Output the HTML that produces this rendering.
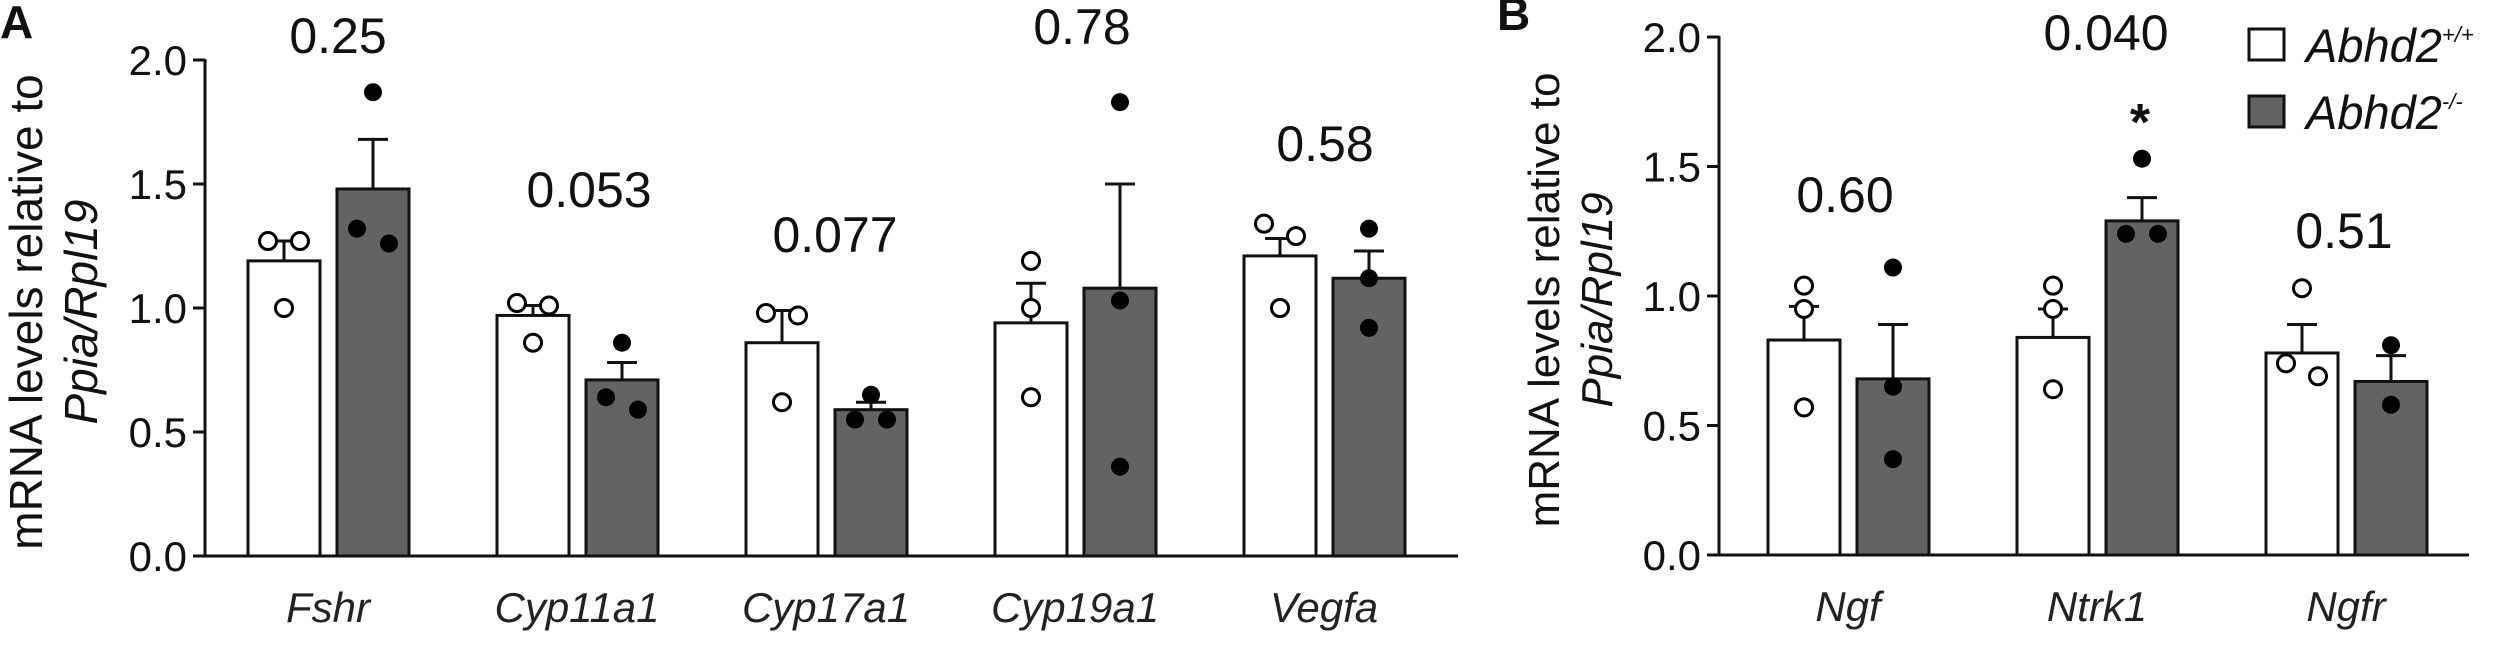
<!DOCTYPE html>
<html><head><meta charset="utf-8"><style>
html,body{margin:0;padding:0;background:#fff;}
svg{display:block;font-family:"Liberation Sans",sans-serif;}
</style></head><body>
<svg id="chart" width="2500" height="653" viewBox="0 0 2500 653"></svg>
<script>
// Panel A data
const catsA = ["Fshr","Cyp11a1","Cyp17a1","Cyp19a1","Vegfa"];
const wtA = [1.19,0.97,0.86,0.94,1.21];
const wtErrA = [1.27,1.01,0.99,1.10,1.28];
const koA = [1.48,0.71,0.59,1.08,1.12];
const koErrA = [1.68,0.78,0.62,1.50,1.23];
const wtPtsA = [[1.27,1.27,1.00],[1.02,1.01,0.86],[0.98,0.97,0.62],[1.19,1.00,0.64],[1.34,1.29,1.00]];
const koPtsA = [[1.87,1.32,1.26],[0.86,0.64,0.59],[0.65,0.55,0.55],[1.83,1.03,0.36],[1.32,1.12,0.92]];
const pA = ["0.25","0.053","0.077","0.78","0.58"];
// Panel B data
const catsB = ["Ngf","Ntrk1","Ngfr"];
const wtB = [0.83,0.84,0.78];
const wtErrB = [0.96,0.95,0.89];
const koB = [0.68,1.29,0.67];
const koErrB = [0.89,1.38,0.77];
const wtPtsB = [[1.04,0.95,0.57],[1.04,0.95,0.64],[1.03,0.74,0.69]];
const koPtsB = [[1.11,0.65,0.37],[1.53,1.24,1.24],[0.81,0.58]];
const pB = ["0.60","0.040","0.51"];
const yTicks = ["0.0","0.5","1.0","1.5","2.0"];

const NS="http://www.w3.org/2000/svg";
const svg=document.getElementById('chart');
function mk(tag,attrs,parent){const e=document.createElementNS(NS,tag);for(const k in attrs)e.setAttribute(k,attrs[k]);(parent||svg).appendChild(e);return e;}

function panel(o){
  const g=mk('g',{});
  
  
  const y=v=>o.y0-v*o.unit;
  const xw=i=>o.x0+i*249;
  const ya=mk('line',{x1:o.ax,y1:y(2)-1,x2:o.ax,y2:o.y0,stroke:'#111','stroke-width':3},g);
  
  
  const xa=mk('line',{x1:o.ax-12,y1:o.y0,x2:o.xend,y2:o.y0,stroke:'#111','stroke-width':3},g);
  
  
  yTicks.forEach(t=>{
    const v=parseFloat(t);
    const tk=mk('line',{x1:o.ax-12,y1:y(v),x2:o.ax,y2:y(v),stroke:'#111','stroke-width':3},g);
    
    
    const tl=mk('text',{x:o.ax-18,y:y(v)+15,'text-anchor':'end','font-size':42,fill:'#111'},g);
    tl.textContent=t;
    
    
  });
  const tt=mk('text',{transform:`translate(${o.tx},${o.ty}) rotate(-90)`,'text-anchor':'middle','font-size':o.tfs,fill:'#111'},g);
  
  
  const t1=mk('tspan',{x:0,y:0},tt);t1.textContent='mRNA levels relative to';
  const t2=mk('tspan',{x:0,dy:o.tfs*1.2,'font-style':'italic'},tt);t2.textContent='Ppia/Rpl19';
  const pl=mk('text',{x:o.lx,y:o.ly,'font-size':46,'font-weight':'bold',fill:'#111'},g);
  pl.textContent=o.letter;
  
  
  function jitter(pts){
    const s=pts.map((v,i)=>({v,i})).sort((a,b)=>b.v-a.v);
    const off=new Array(pts.length).fill(0);
    for(let k=0;k<s.length-1;k++){
      if(Math.abs(s[k].v-s[k+1].v)<0.09&&off[s[k].i]===0&&off[s[k+1].i]===0){off[s[k].i]=-16;off[s[k+1].i]=16;k++;}
    }
    return off;
  }
  o.cats.forEach((c,i)=>{
    const bw=72;
    [[o.wt[i],o.wtErr[i],o.wtPts[i],xw(i),'#fff',false],[o.ko[i],o.koErr[i],o.koPts[i],xw(i)+bw+17,'#636363',true]].forEach(([m,e,pts,bx,fill,ko])=>{
      const cx=bx+bw/2;
      const el=mk('line',{x1:cx,y1:y(m),x2:cx,y2:y(e),stroke:'#111','stroke-width':3},g);
      
      
      const cap=mk('line',{x1:cx-15,y1:y(e),x2:cx+15,y2:y(e),stroke:'#111','stroke-width':3},g);
      
      
      const r=mk('rect',{x:bx,y:y(m),width:bw,height:y(0)-y(m),fill:fill,stroke:'#111','stroke-width':3},g);
      
      
      const off=jitter(pts);
      pts.forEach((v,k)=>{
        const d=mk('circle',{cx:cx+off[k],cy:y(v),r:ko?9:8.5,fill:ko?'#000':'#fff',stroke:'#000','stroke-width':ko?0:3},g);
        
        
      });
    });
    const gc=xw(i)+80;
    const xl=mk('text',{x:gc,y:o.y0+66,'text-anchor':'middle','font-size':42,'font-style':'italic',fill:'#222'},g);
    xl.textContent=c;
    
    
    const pv=mk('text',{x:o.pX[i],y:o.pYpx[i],'text-anchor':'middle','font-size':50,fill:'#111'},g);
    pv.textContent=o.p[i];
    
    
  });
}
panel({name:'panel-a',letter:'A',lx:0,ly:38,cats:catsA,wt:wtA,wtErr:wtErrA,ko:koA,koErr:koErrA,wtPts:wtPtsA,koPts:koPtsA,p:pA,
  pX:[338,589,835,1082,1325],pYpx:[53,207,252,44,161],
  x0:248,ax:205,xend:1458,y0:556,unit:248,tx:42,ty:312,tfs:46});
panel({name:'panel-b',letter:'B',lx:1497,ly:30,cats:catsB,wt:wtB,wtErr:wtErrB,ko:koB,koErr:koErrB,wtPts:wtPtsB,koPts:koPtsB,p:pB,
  pX:[1845,2106,2344],pYpx:[212,50,248],
  x0:1768,ax:1719,xend:2469,y0:555,unit:259,tx:1559,ty:300,tfs:44});
const st=mk('text',{x:2140,y:140,'text-anchor':'middle','font-size':52,'font-weight':'bold',fill:'#111'});
st.textContent='*';


const lg=mk('g',{});


[['#fff','+/+',29],['#636363','-/-',96]].forEach(([f,s,yy])=>{
  const b=mk('rect',{x:2249,y:yy,width:35,height:31,fill:f,stroke:'#111','stroke-width':3},lg);
  
  
  const t=mk('text',{x:2306,y:yy+33,'font-size':47,'font-style':'italic',fill:'#111'},lg);
  
  
  const a=mk('tspan',{},t);a.textContent='Abhd2';
  const sp=mk('tspan',{dy:-20,'font-size':22},t);sp.textContent=s;
});
</script>
</body></html>
